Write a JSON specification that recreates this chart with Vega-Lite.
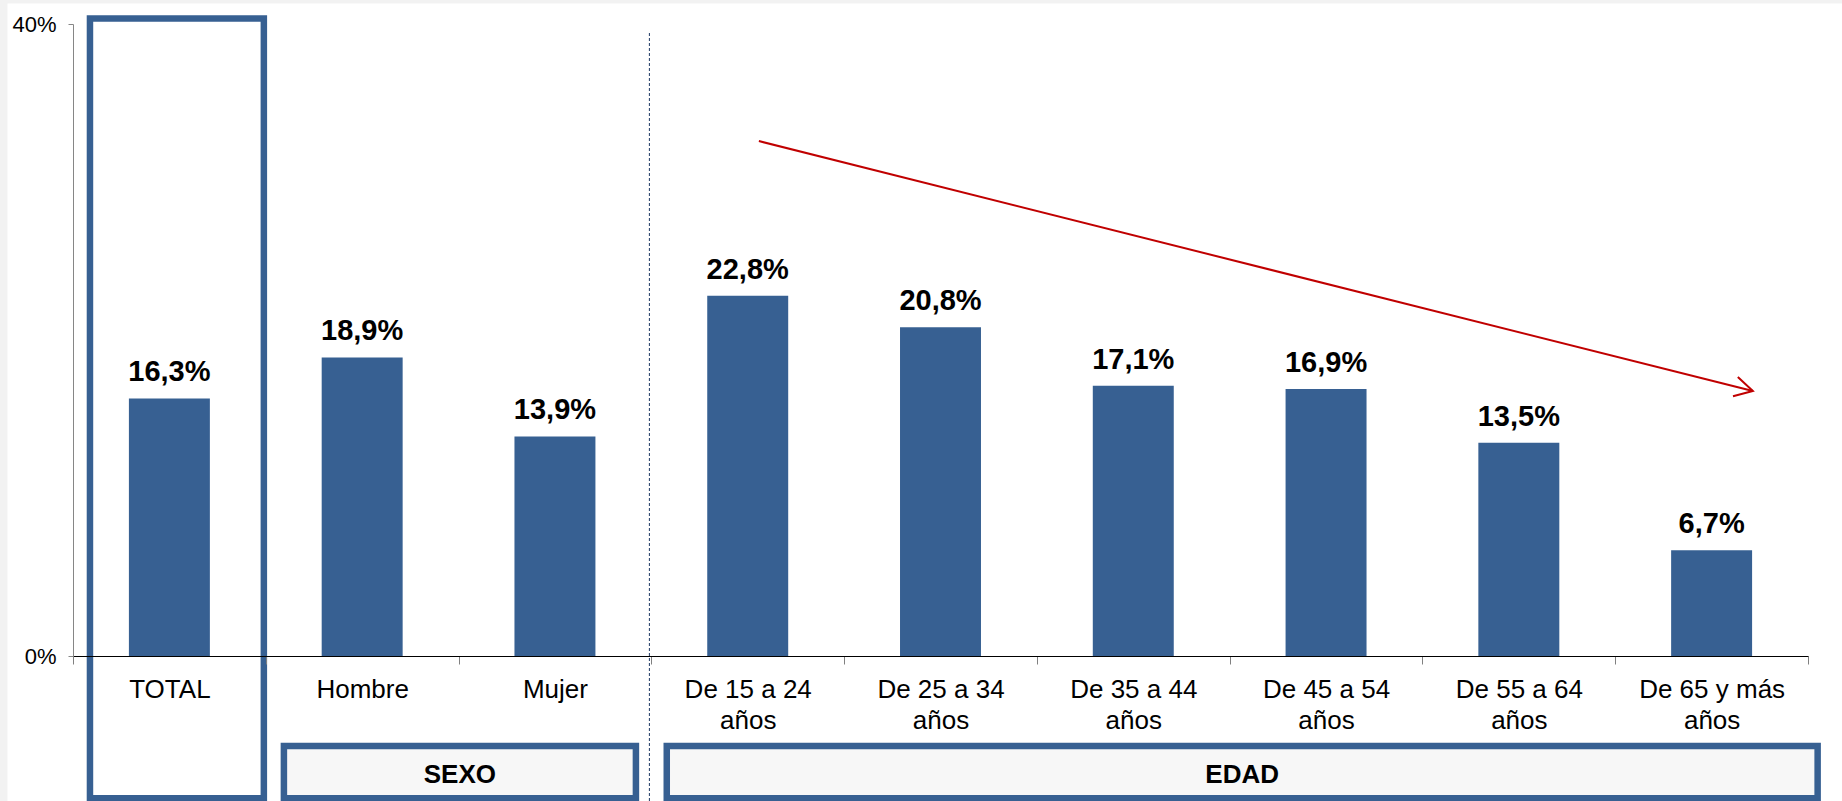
{
  "$schema": "https://vega.github.io/schema/vega-lite/v6.json",
  "autosize": {"type": "none"},
  "width": 1735,
  "height": 632,
  "padding": {"left": 73, "top": 24, "right": 34, "bottom": 145},
  "background": "#f2f2f2",
  "config": {
    "view": {"stroke": null},
    "font": "Liberation Sans",
    "axisY": {"domainColor": "#868686", "tickColor": "#868686", "tickSize": 5, "labelPadding": 12, "labelFontSize": 22, "labelColor": "#000000", "grid": false, "zindex": 2}
  },
  "resolve": {"scale": {"x": "independent"}},
  "layer": [
    {
      "data": {"values": [{"x0": -0.34, "x1": 9.6, "y0": 41.3, "y1": -10}]},
      "mark": {"type": "rect", "fill": "#ffffff"},
      "encoding": {
        "x": {"field": "x0", "type": "quantitative", "scale": {"domain": [0, 9], "nice": false, "zero": false}, "axis": null},
        "x2": {"field": "x1"},
        "y": {"field": "y0", "type": "quantitative", "title": null, "scale": {"domain": [0, 40], "nice": false, "zero": false}},
        "y2": {"field": "y1"}
      }
    },
    {
      "data": {"values": [
        {"categoria": "TOTAL", "valor": 16.3, "etiqueta": "16,3%"},
        {"categoria": "Hombre", "valor": 18.9, "etiqueta": "18,9%"},
        {"categoria": "Mujer", "valor": 13.9, "etiqueta": "13,9%"},
        {"categoria": "De 15 a 24 años", "valor": 22.8, "etiqueta": "22,8%"},
        {"categoria": "De 25 a 34 años", "valor": 20.8, "etiqueta": "20,8%"},
        {"categoria": "De 35 a 44 años", "valor": 17.1, "etiqueta": "17,1%"},
        {"categoria": "De 45 a 54 años", "valor": 16.9, "etiqueta": "16,9%"},
        {"categoria": "De 55 a 64 años", "valor": 13.5, "etiqueta": "13,5%"},
        {"categoria": "De 65 y más años", "valor": 6.7, "etiqueta": "6,7%"}
      ]},
      "layer": [
        {
          "mark": {"type": "bar", "color": "#376092", "width": {"band": 0.42}},
          "encoding": {
            "x": {
              "field": "categoria", "type": "nominal", "sort": null,
              "scale": {"paddingInner": 0, "paddingOuter": 0},
              "axis": {
                "title": null, "orient": "bottom", "tickBand": "extent", "zindex": 2,
                "domainColor": "#000000", "domainWidth": 1,
                "tickColor": "#808080", "tickSize": 8,
                "labelFontSize": 26, "labelColor": "#000000", "labelPadding": 12,
                "labelLineHeight": 31, "labelAngle": 0, "labelLimit": 300, "labelOverlap": false,
                "labelExpr": "indexof(datum.label, ' años') > 0 ? [replace(datum.label, ' años', ''), 'años'] : datum.label"
              }
            },
            "y": {
              "field": "valor", "type": "quantitative",
              "scale": {"domain": [0, 40], "nice": false, "zero": false},
              "axis": {
                "title": null, "values": [0, 40], "labelExpr": "datum.value + '%'", "zindex": 2, "orient": "left",
                "domainColor": "#868686", "tickColor": "#868686", "tickSize": 5,
                "labelPadding": 12, "labelFontSize": 22, "labelColor": "#000000", "grid": false
              }
            }
          }
        },
        {
          "mark": {"type": "text", "dy": -17, "baseline": "alphabetic", "fontSize": 29, "fontWeight": "bold", "color": "#000000"},
          "encoding": {
            "x": {"field": "categoria", "type": "nominal", "sort": null},
            "y": {"field": "valor", "type": "quantitative", "title": null, "scale": {"domain": [0, 40], "nice": false, "zero": false}},
            "text": {"field": "etiqueta"}
          }
        }
      ]
    },
    {
      "layer": [
        {
          "data": {"values": [
            {"grupo": "TOTAL", "x0": 0.088, "x1": 0.99, "y0": 40.35, "y1": -9.0},
            {"grupo": "SEXO", "x0": 1.094, "x1": 2.92, "y0": -5.7, "y1": -9.0},
            {"grupo": "EDAD", "x0": 3.08, "x1": 9.05, "y0": -5.7, "y1": -9.0}
          ]},
          "mark": {"type": "rect", "stroke": "#376092", "strokeWidth": 6.5},
          "encoding": {
            "x": {"field": "x0", "type": "quantitative", "scale": {"domain": [0, 9], "nice": false, "zero": false}, "axis": null},
            "x2": {"field": "x1"},
            "y": {"field": "y0", "type": "quantitative", "title": null, "scale": {"domain": [0, 40], "nice": false, "zero": false}},
            "y2": {"field": "y1"},
            "fill": {"field": "grupo", "type": "nominal", "scale": {"domain": ["TOTAL", "SEXO", "EDAD"], "range": ["transparent", "#f7f7f7", "#f7f7f7"]}, "legend": null}
          }
        },
        {
          "data": {"values": [
            {"texto": "SEXO", "xc": 2.007, "yc": -7.5},
            {"texto": "EDAD", "xc": 6.065, "yc": -7.5}
          ]},
          "mark": {"type": "text", "fontSize": 26, "fontWeight": "bold", "baseline": "middle", "align": "center", "color": "#000000"},
          "encoding": {
            "x": {"field": "xc", "type": "quantitative", "scale": {"domain": [0, 9], "nice": false, "zero": false}, "axis": null},
            "y": {"field": "yc", "type": "quantitative", "title": null, "scale": {"domain": [0, 40], "nice": false, "zero": false}},
            "text": {"field": "texto"}
          }
        },
        {
          "data": {"values": [{"xs": 2.99, "ys0": 39.43, "ys1": -9.4}]},
          "mark": {"type": "rule", "color": "#1f3864", "strokeWidth": 1, "strokeDash": [3, 2]},
          "encoding": {
            "x": {"field": "xs", "type": "quantitative", "scale": {"domain": [0, 9], "nice": false, "zero": false}, "axis": null},
            "y": {"field": "ys0", "type": "quantitative", "title": null, "scale": {"domain": [0, 40], "nice": false, "zero": false}},
            "y2": {"field": "ys1"}
          }
        },
        {
          "data": {"values": [{"xa0": 3.558, "ya0": 32.59, "xa1": 8.714, "ya1": 16.77}]},
          "layer": [
            {
              "mark": {"type": "rule", "color": "#c00000", "strokeWidth": 2},
              "encoding": {
                "x": {"field": "xa0", "type": "quantitative", "scale": {"domain": [0, 9], "nice": false, "zero": false}, "axis": null},
                "x2": {"field": "xa1"},
                "y": {"field": "ya0", "type": "quantitative", "title": null, "scale": {"domain": [0, 40], "nice": false, "zero": false}},
                "y2": {"field": "ya1"}
              }
            },
            {
              "mark": {"type": "point", "shape": "M -1 -0.55 L 0 0 L -1 0.55", "size": 1296, "filled": false, "stroke": "#c00000", "strokeWidth": 2, "opacity": 1, "angle": 14.1},
              "encoding": {
                "x": {"field": "xa1", "type": "quantitative", "scale": {"domain": [0, 9], "nice": false, "zero": false}, "axis": null},
                "y": {"field": "ya1", "type": "quantitative", "title": null, "scale": {"domain": [0, 40], "nice": false, "zero": false}}
              }
            }
          ]
        }
      ]
    }
  ]
}
